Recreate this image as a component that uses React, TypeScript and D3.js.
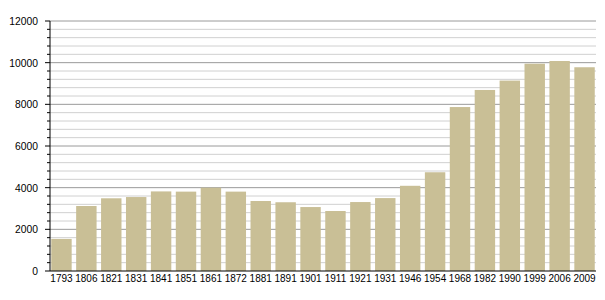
import React from "react";
import * as d3 from "d3";

const years = ["1793","1806","1821","1831","1841","1851","1861","1872","1881","1891","1901","1911","1921","1931","1946","1954","1968","1982","1990","1999","2006","2009"];
const population = [1540,3120,3490,3550,3820,3810,4000,3810,3360,3300,3070,2880,3310,3500,4090,4740,7870,8690,9140,9950,10080,9780];
const yMajorTicks = [0,2000,4000,6000,8000,10000,12000];

const W = 605, H = 300;
const left = 50, right = 596, top = 21, bottom = 271;

export default function App() {
  const x = d3.scaleBand<string>().domain(years).range([left, right]).paddingInner(0.18).paddingOuter(0.05);
  const y = d3.scaleLinear().domain([0, 12000]).range([bottom, top]);
  const minor = d3.range(0, 12001, 400);
  return (
    <svg width={W} height={H} style={{ position: "absolute", left: 0, top: 0 }} fontFamily="Liberation Sans, Arial, sans-serif">
      <rect width={W} height={H} fill="#fff" />
      {minor.filter(v => v % 2000 !== 0).map(v => (
        <line key={"m" + v} x1={left} x2={right} y1={y(v)} y2={y(v)} stroke="#d0d0d0" strokeWidth={1} />
      ))}
      {yMajorTicks.filter(v => v !== 0).map(v => (
        <line key={"M" + v} x1={left} x2={right} y1={y(v)} y2={y(v)} stroke="#9a9a9a" strokeWidth={1} />
      ))}
      {years.map((yr, i) => (
        <rect key={yr} x={x(yr)} y={y(population[i])} width={x.bandwidth()} height={bottom - y(population[i])} fill="#c9bf96" />
      ))}
      {minor.map(v => (
        <line key={"t" + v} x1={v % 2000 === 0 ? left - 5 : left - 3} x2={left} y1={y(v)} y2={y(v)} stroke="#000" strokeWidth={1} />
      ))}
      <line x1={left} x2={left} y1={top} y2={bottom} stroke="#000" strokeWidth={1} />
      <line x1={left} x2={right} y1={bottom} y2={bottom} stroke="#000" strokeWidth={1} />
      {yMajorTicks.map(v => (
        <text key={"l" + v} x={38} y={y(v) + 4} fontSize={10.3} textAnchor="end" fill="#000">{v}</text>
      ))}
      {years.map(yr => (
        <text key={"x" + yr} x={(x(yr) as number) + x.bandwidth() / 2} y={282} fontSize={10} textAnchor="middle" fill="#000">{yr}</text>
      ))}
    </svg>
  );
}
